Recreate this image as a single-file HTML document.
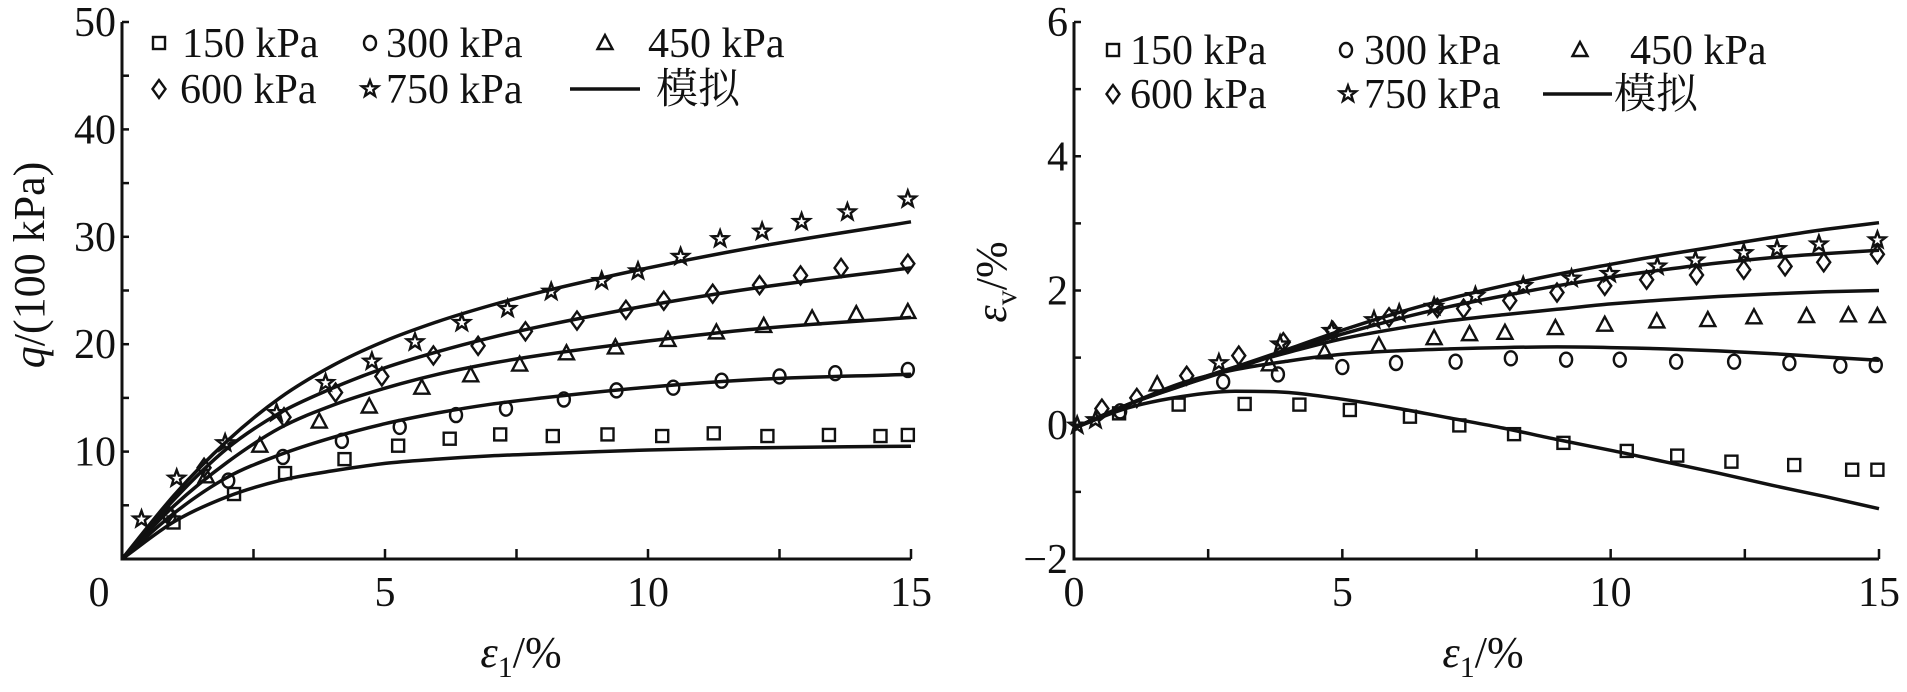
<!DOCTYPE html>
<html><head><meta charset="utf-8"><style>
html,body{margin:0;padding:0;background:#fff;}
svg{display:block;}
text{font-family:"Liberation Serif","DejaVu Serif","Noto Serif CJK SC",serif;fill:#111;}
</style></head><body>
<svg id="chart" width="1907" height="692" viewBox="0 0 1907 692" xmlns="http://www.w3.org/2000/svg"></svg>
<script>
// ---------- data: left panel (q vs eps1) ----------
const seriesNames = ["150 kPa","300 kPa","450 kPa","600 kPa","750 kPa"];
const markerShapes = ["square","circle","triangle","diamond","star"];
const qCurveX = [0,1,2,3,4,5,6,7,8,10,12,15];
const qCurve150 = [0,3.5,5.8,7.3,8.2,8.9,9.3,9.6,9.8,10.15,10.35,10.5];
const qCurve300 = [0,4.3,7.6,9.7,11.3,12.6,13.6,14.4,15.0,16.0,16.7,17.2];
const qCurve450 = [0,5.0,9.0,12.2,14.3,15.9,17.2,18.2,19.0,20.3,21.4,22.5];
const qCurve600 = [0,5.6,10.3,13.6,15.9,17.8,19.3,20.6,21.7,23.6,25.2,27.1];
const qCurve750 = [0,6.0,11.0,15.0,18.0,20.3,22.1,23.6,24.9,27.1,29.0,31.4];
const qPts150X = [0.98,2.13,3.1,4.23,5.25,6.23,7.19,8.19,9.23,10.27,11.25,12.27,13.44,14.42,14.94];
const qPts150Y = [3.4,6.05,8.0,9.3,10.55,11.2,11.6,11.45,11.6,11.45,11.7,11.45,11.55,11.45,11.55];
const qPts300X = [0.9,2.02,3.06,4.18,5.28,6.35,7.3,8.4,9.4,10.48,11.4,12.5,13.56,14.94];
const qPts300Y = [4.0,7.3,9.5,11.0,12.3,13.4,14.0,14.85,15.7,15.95,16.6,17.0,17.3,17.6];
const qPts450X = [1.6,2.62,3.75,4.7,5.7,6.63,7.56,8.45,9.38,10.38,11.3,12.2,13.12,13.96,14.94];
const qPts450Y = [7.7,10.55,12.8,14.2,15.95,17.1,18.1,19.15,19.7,20.4,21.1,21.7,22.4,22.8,23.0];
const qPts600X = [0.87,1.56,3.08,4.06,4.94,5.92,6.77,7.67,8.65,9.58,10.3,11.23,12.12,12.9,13.67,14.94];
const qPts600Y = [4.2,8.5,13.2,15.5,17.0,18.95,19.85,21.2,22.2,23.2,24.05,24.7,25.5,26.4,27.1,27.5];
const qPts750X = [0.37,1.04,1.96,2.94,3.87,4.75,5.57,6.46,7.33,8.16,9.12,9.81,10.62,11.37,12.17,12.92,13.79,14.94];
const qPts750Y = [3.7,7.5,10.8,13.6,16.4,18.4,20.2,22.0,23.3,24.9,25.9,26.8,28.15,29.8,30.5,31.4,32.3,33.5];
const qYTicks = ["10","20","30","40","50"];
const qXTicks = ["0","5","10","15"];
// ---------- data: right panel (eps_v vs eps1) ----------
const vCurveX = [0,1,2,3,4,5,6,7,8,9,10,11,12,13,14,15];
const vCurve150 = [-0.05,0.25,0.42,0.5,0.48,0.38,0.25,0.1,-0.05,-0.22,-0.38,-0.55,-0.72,-0.9,-1.07,-1.25];
const vCurve300 = [-0.05,0.3,0.62,0.82,0.95,1.05,1.1,1.13,1.15,1.16,1.15,1.13,1.1,1.06,1.01,0.96];
const vCurve450 = [-0.05,0.3,0.6,0.86,1.08,1.28,1.43,1.55,1.64,1.72,1.8,1.86,1.91,1.95,1.98,2.0];
const vCurve600 = [-0.05,0.3,0.58,0.84,1.1,1.35,1.57,1.76,1.92,2.07,2.2,2.31,2.41,2.49,2.55,2.6];
const vCurve750 = [-0.05,0.3,0.58,0.86,1.13,1.41,1.66,1.88,2.07,2.24,2.39,2.53,2.66,2.79,2.91,3.01];
const vPts150X = [0.84,1.95,3.18,4.2,5.14,6.26,7.18,8.2,9.12,10.3,11.24,12.25,13.42,14.5,14.97];
const vPts150Y = [0.17,0.3,0.31,0.3,0.22,0.12,-0.01,-0.14,-0.27,-0.39,-0.46,-0.55,-0.6,-0.67,-0.67];
const vPts300X = [0.86,2.78,3.8,5.0,6.0,7.11,8.14,9.17,10.17,11.22,12.3,13.33,14.28,14.94];
const vPts300Y = [0.2,0.64,0.75,0.86,0.92,0.94,0.99,0.97,0.97,0.94,0.94,0.92,0.88,0.89];
const vPts450X = [1.55,3.64,4.67,5.68,6.71,7.37,8.03,8.97,9.89,10.86,11.81,12.67,13.65,14.43,14.97];
const vPts450Y = [0.6,0.9,1.08,1.18,1.29,1.35,1.37,1.44,1.49,1.54,1.56,1.6,1.62,1.63,1.62];
const vPts600X = [0.52,1.17,2.1,3.07,3.9,4.82,5.87,6.77,7.26,8.12,9.0,9.89,10.67,11.6,12.48,13.25,13.97,14.97];
const vPts600Y = [0.24,0.4,0.73,1.03,1.23,1.4,1.6,1.74,1.73,1.85,1.97,2.07,2.16,2.23,2.31,2.36,2.42,2.54];
const vPts750X = [0.06,0.4,2.7,3.84,4.8,5.59,6.06,6.71,7.48,8.37,9.27,9.98,10.87,11.58,12.48,13.1,13.88,14.97];
const vPts750Y = [-0.01,0.07,0.92,1.2,1.4,1.56,1.66,1.76,1.92,2.07,2.18,2.25,2.36,2.45,2.56,2.62,2.69,2.75];
const vYTicks = ["\u22122","0","2","4","6"];
const vXTicks = ["0","5","10","15"];

const NS="http://www.w3.org/2000/svg";
const FONT="'Liberation Serif','DejaVu Serif','Noto Serif CJK SC',serif";
const svg=document.getElementById('chart');
function mk(tag,attrs,parent){const e=document.createElementNS(NS,tag);for(const k in attrs)e.setAttribute(k,attrs[k]);if(tag==='text')e.style.fontFamily=FONT;(parent||svg).appendChild(e);return e;}
function monoPath(xs,ys,sx,sy){
  const n=xs.length,d=[],m=[];
  for(let i=0;i<n-1;i++)d.push((ys[i+1]-ys[i])/(xs[i+1]-xs[i]));
  m[0]=d[0];m[n-1]=d[n-2];
  for(let i=1;i<n-1;i++){m[i]=(d[i-1]*d[i]<=0)?0:(d[i-1]+d[i])/2;}
  for(let i=0;i<n-1;i++){if(d[i]===0){m[i]=0;m[i+1]=0;continue;}const a=m[i]/d[i],b=m[i+1]/d[i],s=a*a+b*b;if(s>9){const t=3/Math.sqrt(s);m[i]=t*a*d[i];m[i+1]=t*b*d[i];}}
  let p=`M${sx(xs[0]).toFixed(1)},${sy(ys[0]).toFixed(1)}`;
  for(let i=0;i<n-1;i++){const h=xs[i+1]-xs[i];
    p+=`C${sx(xs[i]+h/3).toFixed(1)},${sy(ys[i]+m[i]*h/3).toFixed(1)} ${sx(xs[i+1]-h/3).toFixed(1)},${sy(ys[i+1]-m[i+1]*h/3).toFixed(1)} ${sx(xs[i+1]).toFixed(1)},${sy(ys[i+1]).toFixed(1)}`;}
  return p;
}
function marker(g,shape,cx,cy){
  const st={fill:'none',stroke:'#111','stroke-width':2.4};let e;
  if(shape==='square'){e=mk('rect',Object.assign({x:cx-6,y:cy-6,width:12,height:12},st),g);}
  else if(shape==='circle'){e=mk('ellipse',Object.assign({cx:cx,cy:cy,rx:6,ry:7},st),g);}
  else if(shape==='triangle'){e=mk('polygon',Object.assign({points:`${cx},${cy-8} ${cx-7.5},${cy+6} ${cx+7.5},${cy+6}`},st),g);}
  else if(shape==='diamond'){e=mk('polygon',Object.assign({points:`${cx},${cy-9} ${cx-6.5},${cy} ${cx},${cy+9} ${cx+6.5},${cy}`},st),g);}
  else {let p=[];for(let i=0;i<10;i++){const r=i%2?3.5:8.5,a=-Math.PI/2+i*Math.PI/5;p.push(`${(cx+r*Math.cos(a)).toFixed(1)},${(cy+r*Math.sin(a)).toFixed(1)}`);}e=mk('polygon',Object.assign({points:p.join(' ')},st),g);}
  return e;
}

function panel(cfg){
  const g=mk('g',{});
  
  
  const sx=v=>cfg.x0+(v-cfg.xmin)/(cfg.xmax-cfg.xmin)*(cfg.x1-cfg.x0);
  const sy=v=>cfg.y0-(v-cfg.ymin)/(cfg.ymax-cfg.ymin)*(cfg.y0-cfg.y1);
  const ax=mk('path',{d:`M${cfg.x0},${cfg.y1} V${cfg.y0} H${cfg.x1}`,fill:'none',stroke:'#111','stroke-width':3},g);
  
  
  for(let v=cfg.ymin;v<=cfg.ymax+1e-9;v+=cfg.yMinor){const t=mk('line',{x1:cfg.x0,x2:cfg.x0+7,y1:sy(v),y2:sy(v),stroke:'#111','stroke-width':2.5},g);
    
    }
  for(let v=cfg.xmin+cfg.xMinor;v<=cfg.xmax+1e-9;v+=cfg.xMinor){const t=mk('line',{x1:sx(v),x2:sx(v),y1:cfg.y0,y2:cfg.y0-10,stroke:'#111','stroke-width':2.5},g);
    
    }
  cfg.yTicks.forEach(s=>{const v=parseFloat(s.replace('\u2212','-'));const t=mk('text',{x:cfg.x0-6,y:sy(v)+14,'font-size':42,'text-anchor':'end'},g);t.textContent=s;
    
    });
  cfg.xTicks.forEach(s=>{const v=parseFloat(s);let x=sx(v);if(v===0)x+=cfg.zeroShift;const t=mk('text',{x:x,y:606,'font-size':42,'text-anchor':'middle'},g);t.textContent=s;
    
    });
  cfg.curves.forEach((c,i)=>{const p=mk('path',{d:monoPath(cfg.curveX,c,sx,sy),fill:'none',stroke:'#111','stroke-width':3.5},g);
    
    });
  cfg.ptsX.forEach((xs,i)=>{const mg=mk('g',{},g);
    
    
    xs.forEach((x,j)=>{const m=marker(mg,markerShapes[i],sx(x),sy(cfg.ptsY[i][j]));
      
      });});
  const lg=mk('g',{},g);
  
  
  cfg.legend.forEach((L,i)=>{const eg=mk('g',{},lg);
    
    
    if(L.shape==='line'){mk('line',{x1:L.mx,x2:L.mx2,y1:L.y,y2:L.y,stroke:'#111','stroke-width':3.5},eg);}
    else marker(eg,L.shape,L.mx,L.y);
    const t=mk('text',{x:L.tx,y:L.y+14,'font-size':42},eg);t.textContent=L.label;});
  const yt=mk('text',{transform:`translate(${cfg.ytX},${cfg.ytY}) rotate(-90)`,'font-size':44,'text-anchor':'middle'},g);
  yt.innerHTML=cfg.ytHTML;
  
  
  const xt=mk('text',{x:cfg.xtX,y:667,'font-size':44,'text-anchor':'middle'},g);
  xt.innerHTML='<tspan font-style="italic">\u03b5</tspan><tspan font-size="30" dy="10">1</tspan><tspan dy="-10">/%</tspan>';
  
  
}

panel({name:'q-panel',x0:122,x1:911,y0:559,y1:22,xmin:0,xmax:15,ymin:0,ymax:50,xMinor:2.5,yMinor:5,zeroShift:-23,
  yTicks:qYTicks,xTicks:qXTicks,curveX:qCurveX,
  curves:[qCurve150,qCurve300,qCurve450,qCurve600,qCurve750],
  ptsX:[qPts150X,qPts300X,qPts450X,qPts600X,qPts750X],ptsY:[qPts150Y,qPts300Y,qPts450Y,qPts600Y,qPts750Y],
  legend:[{shape:'square',mx:159,tx:182,y:43,label:'150 kPa'},{shape:'circle',mx:370,tx:386,y:43,label:'300 kPa'},{shape:'triangle',mx:605,tx:648,y:43,label:'450 kPa'},
          {shape:'diamond',mx:159,tx:180,y:89,label:'600 kPa'},{shape:'star',mx:370,tx:386,y:89,label:'750 kPa'},{shape:'line',mx:570,mx2:640,tx:656,y:89,label:'模拟'}],
  ytX:44,ytY:265,ytHTML:'<tspan font-style="italic">q</tspan>/(100 kPa)',xtX:521});
panel({name:'volumetric-strain-panel',x0:1074,x1:1879,y0:559,y1:22,xmin:0,xmax:15,ymin:-2,ymax:6,xMinor:2.5,yMinor:1,zeroShift:0,
  yTicks:vYTicks,xTicks:vXTicks,curveX:vCurveX,
  curves:[vCurve150,vCurve300,vCurve450,vCurve600,vCurve750],
  ptsX:[vPts150X,vPts300X,vPts450X,vPts600X,vPts750X],ptsY:[vPts150Y,vPts300Y,vPts450Y,vPts600Y,vPts750Y],
  legend:[{shape:'square',mx:1113,tx:1130,y:50,label:'150 kPa'},{shape:'circle',mx:1346,tx:1364,y:50,label:'300 kPa'},{shape:'triangle',mx:1580,tx:1630,y:50,label:'450 kPa'},
          {shape:'diamond',mx:1113,tx:1130,y:94,label:'600 kPa'},{shape:'star',mx:1348,tx:1364,y:94,label:'750 kPa'},{shape:'line',mx:1543,mx2:1612,tx:1614,y:94,label:'模拟'}],
  ytX:1006,ytY:282,ytHTML:'<tspan font-style="italic">\u03b5</tspan><tspan font-size="30" dy="10">v</tspan><tspan dy="-10">/%</tspan>',xtX:1483});
</script>
</body></html>
